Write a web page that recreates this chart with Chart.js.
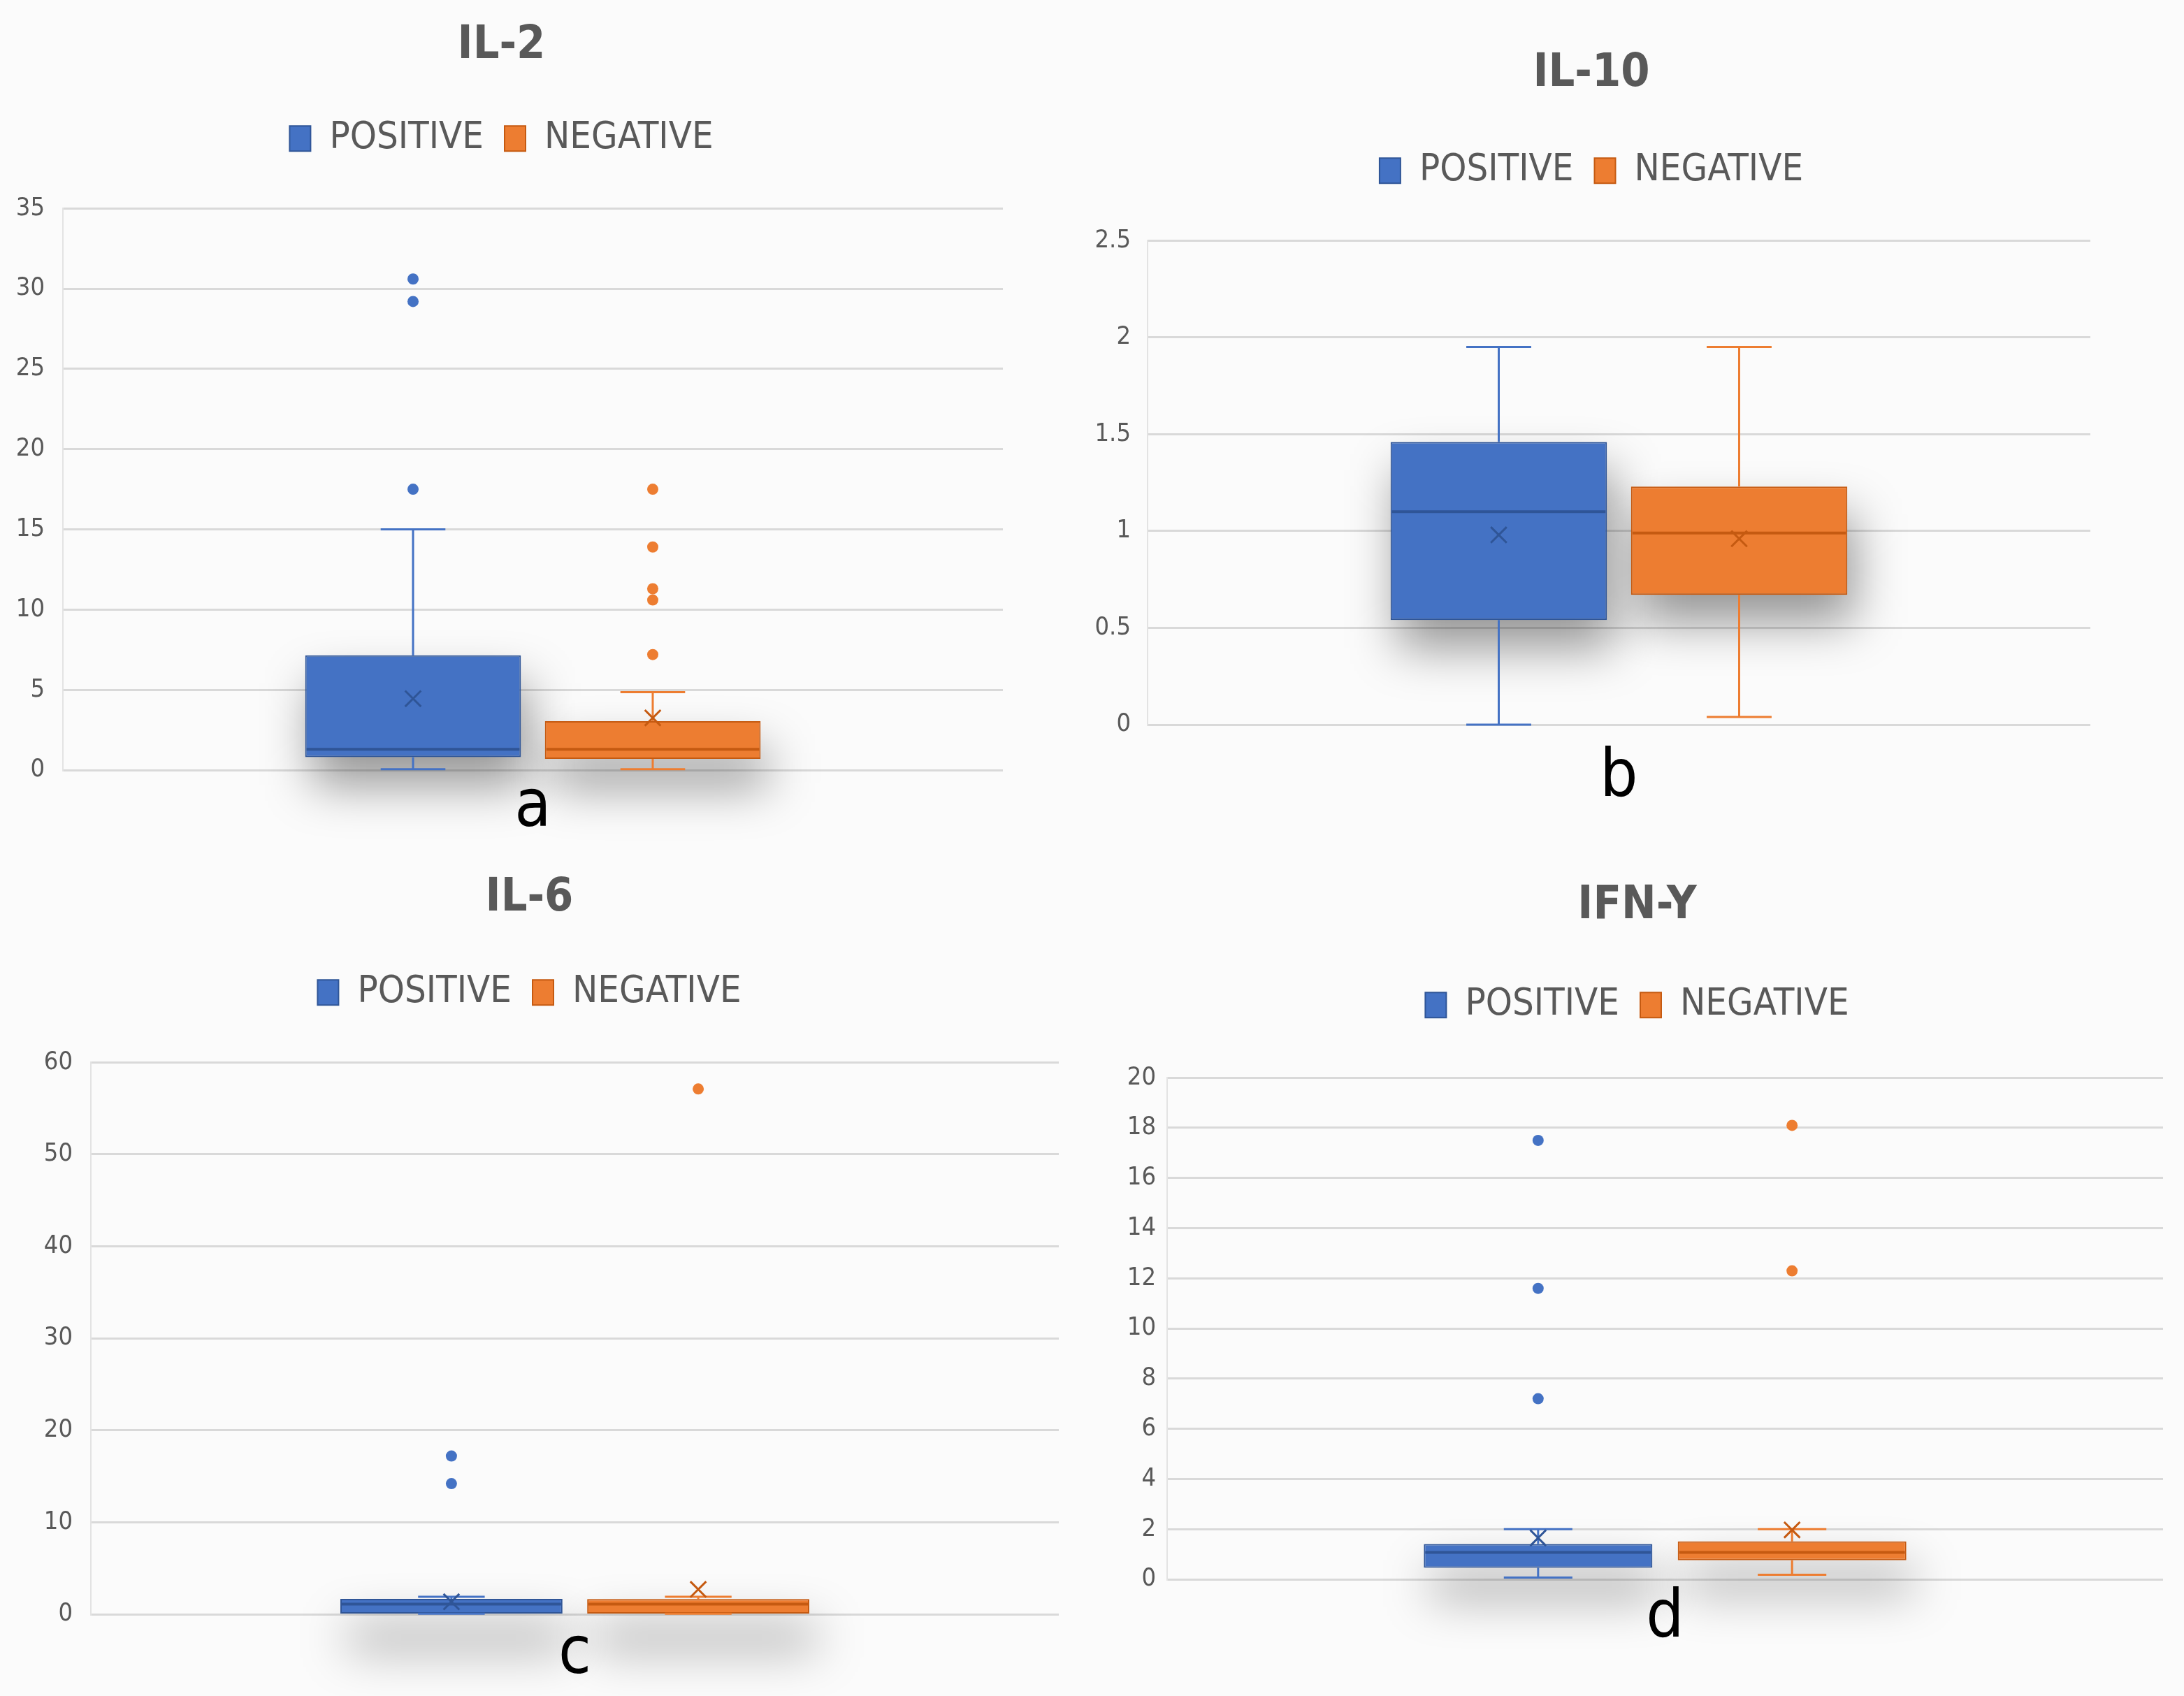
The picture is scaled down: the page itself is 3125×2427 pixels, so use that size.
<!DOCTYPE html>
<html>
<head>
<meta charset="utf-8">
<script src="https://cdn.jsdelivr.net/npm/chart.js@4.4.1/dist/chart.umd.min.js"></script>
<style>
  html, body { margin: 0; padding: 0; background: #fbfbfb; }
  body { width: 3125px; height: 2427px; position: relative; overflow: hidden; }
  .panel { position: absolute; }
</style>
</head>
<body>
<div class="panel" id="p0"><canvas id="c0"></canvas></div>
<div class="panel" id="p1"><canvas id="c1"></canvas></div>
<div class="panel" id="p2"><canvas id="c2"></canvas></div>
<div class="panel" id="p3"><canvas id="c3"></canvas></div>
<script>
// chart data, one entry per panel
const titles = ['IL-2', 'IL-10', 'IL-6', 'IFN-Y'];
const letters = ['a', 'b', 'c', 'd'];
const seriesNames = ['POSITIVE', 'NEGATIVE'];
const yMax = [35, 2.5, 60, 20];
const yStep = [5, 0.5, 10, 2];

// POSITIVE group
const posMin = [0.05, 0.0, 0.05, 0.07];
const posQ1 = [0.81, 0.54, 0.08, 0.46];
const posMedian = [1.3, 1.1, 1.1, 1.07];
const posQ3 = [7.15, 1.46, 1.68, 1.41];
const posMax = [15.0, 1.95, 1.9, 2.0];
const posMean = [4.45, 0.98, 1.35, 1.65];
const posOutliers = [[30.6, 29.2, 17.5], [], [17.2, 14.2], [17.5, 11.6, 7.2]];

// NEGATIVE group
const negMin = [0.05, 0.04, 0.05, 0.18];
const negQ1 = [0.7, 0.67, 0.08, 0.76];
const negMedian = [1.3, 0.99, 1.1, 1.07];
const negQ3 = [3.05, 1.23, 1.65, 1.51];
const negMax = [4.85, 1.95, 1.9, 2.0];
const negMean = [3.25, 0.96, 2.7, 1.97];
const negOutliers = [[17.5, 13.9, 11.3, 10.6, 7.2], [], [57.1], [18.1, 12.3]];

// look
const FONT = "'DejaVu Sans Condensed', 'Liberation Sans', sans-serif";
const fills = ['#4472C4', '#ED7D31'];
const darks = ['#2F5597', '#C55A11'];
const CAT_PCT = 1.02;
const BAR_PCT = 0.9;

// panel boxes: [left, top, width, height, yAxisWidth, tickPad, padRight,
//               titleTop, titleBottom, gapBelowLegend, letterPad]
const layoutBoxes = [
  [0, 0, 1460, 1213, 90, 26, 25, 26, 36, 63, 8],
  [1560, 0, 1450, 1192, 82, 24, 16, 66, 42, 63, 30],
  [0, 1215, 1582, 1214, 130, 26, 67, 31, 38, 63, 12],
  [1590, 1215, 1535, 1160, 80, 16, 30, 42, 45, 67, 10]
];

// whiskers, medians and box shadow, placed with the y scale and the bar elements
const boxPlotPlugin = {
  id: 'boxPlot',
  beforeDatasetsDraw(chart) {
    const ctx = chart.ctx;
    chart.getSortedVisibleDatasetMetas().forEach(meta => {
      if (meta.type !== 'bar') return;
      const bar = meta.data[0];
      const top = Math.min(bar.y, bar.base);
      const h = Math.abs(bar.base - bar.y);
      ctx.save();
      ctx.filter = 'blur(34px)';
      ctx.fillStyle = 'rgba(0,0,0,0.40)';
      ctx.fillRect(bar.x - bar.width / 2 + 10, top + 40, bar.width, Math.max(h, 30));
      ctx.restore();
    });
  },
  afterDatasetDraw(chart, args) {
    const meta = args.meta;
    if (meta.type !== 'bar') return;
    const ctx = chart.ctx;
    const ds = chart.data.datasets[args.index];
    const y = chart.scales.y;
    const bar = meta.data[0];
    const cx = bar.x;
    const cap = bar.width * 0.3;
    const yMin = y.getPixelForValue(ds.stats.min);
    const yQ1 = y.getPixelForValue(ds.stats.q1);
    const yQ3 = y.getPixelForValue(ds.stats.q3);
    const yMx = y.getPixelForValue(ds.stats.max);
    const yMed = y.getPixelForValue(ds.stats.median);
    ctx.save();
    ctx.strokeStyle = ds.backgroundColor;
    ctx.lineWidth = 3;
    ctx.beginPath();
    ctx.moveTo(cx, yQ3); ctx.lineTo(cx, yMx);
    ctx.moveTo(cx - cap / 2, yMx); ctx.lineTo(cx + cap / 2, yMx);
    ctx.moveTo(cx, yQ1); ctx.lineTo(cx, yMin);
    ctx.moveTo(cx - cap / 2, yMin); ctx.lineTo(cx + cap / 2, yMin);
    ctx.stroke();
    ctx.strokeStyle = ds.borderColor;
    ctx.lineWidth = 4;
    ctx.beginPath();
    ctx.moveTo(bar.x - bar.width / 2 + 2, yMed);
    ctx.lineTo(bar.x + bar.width / 2 - 2, yMed);
    ctx.stroke();
    ctx.restore();
  }
};

function makeChart(i) {
  const b = layoutBoxes[i];
  const panel = document.getElementById('p' + i);
  panel.style.left = b[0] + 'px';
  panel.style.top = b[1] + 'px';
  panel.style.width = b[2] + 'px';
  panel.style.height = b[3] + 'px';

  // bar centres sit at a quarter of the category share either side of the middle
  const off = CAT_PCT / 4;
  const groups = [
    { name: seriesNames[0], q1: posQ1[i], q3: posQ3[i], min: posMin[i], max: posMax[i], median: posMedian[i], mean: posMean[i], out: posOutliers[i], side: -1 },
    { name: seriesNames[1], q1: negQ1[i], q3: negQ3[i], min: negMin[i], max: negMax[i], median: negMedian[i], mean: negMean[i], out: negOutliers[i], side: 1 }
  ];

  const datasets = [];
  groups.forEach((g, k) => {
    datasets.push({
      type: 'scatter',
      label: g.name + ' mean',
      xAxisID: 'xp',
      data: [{ x: g.side * off, y: g.mean }],
      pointStyle: 'crossRot',
      pointRadius: 16,
      pointBorderWidth: 3,
      pointBorderColor: darks[k],
      pointBackgroundColor: darks[k],
      order: 1
    });
    datasets.push({
      type: 'scatter',
      label: g.name + ' outliers',
      xAxisID: 'xp',
      data: g.out.map(v => ({ x: g.side * off, y: v })),
      pointStyle: 'circle',
      pointRadius: 8,
      pointBorderWidth: 0,
      pointBackgroundColor: fills[k],
      order: 1
    });
  });
  groups.forEach((g, k) => {
    datasets.push({
      type: 'bar',
      label: g.name,
      data: [[g.q1, g.q3]],
      backgroundColor: fills[k],
      borderColor: darks[k],
      borderWidth: 2,
      borderSkipped: false,
      categoryPercentage: CAT_PCT,
      barPercentage: BAR_PCT,
      stats: { min: g.min, q1: g.q1, q3: g.q3, max: g.max, median: g.median },
      order: 2
    });
  });

  new Chart(document.getElementById('c' + i), {
    type: 'bar',
    data: { labels: [letters[i]], datasets: datasets },
    plugins: [boxPlotPlugin],
    options: {
      responsive: true,
      maintainAspectRatio: false,
      animation: false,
      events: [],
      layout: { padding: { left: 0, right: b[6], top: 0, bottom: 0 } },
      plugins: {
        title: {
          display: true,
          text: titles[i],
          color: '#595959',
          font: { family: FONT, size: 66, weight: 'bold', lineHeight: 1.2 },
          padding: { top: b[7], bottom: b[8] }
        },
        legend: {
          display: true,
          position: 'top',
          labels: {
            filter: item => seriesNames.includes(item.text),
            color: '#595959',
            font: { family: FONT, size: 54 },
            boxWidth: 30,
            boxHeight: 36,
            padding: 30
          }
        },
        tooltip: { enabled: false }
      },
      scales: {
        x: {
          type: 'category',
          position: 'bottom',
          grid: { display: false, drawTicks: false },
          border: { display: false },
          ticks: {
            color: '#000000',
            font: { family: FONT, size: 95, lineHeight: 1 },
            padding: b[10]
          }
        },
        xp: {
          type: 'linear',
          position: 'top',
          min: -1,
          max: 1,
          offset: false,
          display: true,
          grid: { display: false, drawTicks: false },
          border: { display: false },
          ticks: { display: false },
          afterFit: s => { s.height = b[9]; }
        },
        y: {
          min: 0,
          max: yMax[i],
          grid: { color: '#D9D9D9', lineWidth: 3, drawTicks: false },
          border: { display: true, color: '#E3E3E3', width: 2 },
          ticks: {
            stepSize: yStep[i],
            color: '#595959',
            font: { family: FONT, size: 36 },
            padding: b[5],
            callback: v => String(Math.round(v * 100) / 100)
          },
          afterFit: s => { s.width = b[4]; }
        }
      }
    }
  });
}

for (let i = 0; i < titles.length; i++) makeChart(i);
</script>
</body>
</html>
